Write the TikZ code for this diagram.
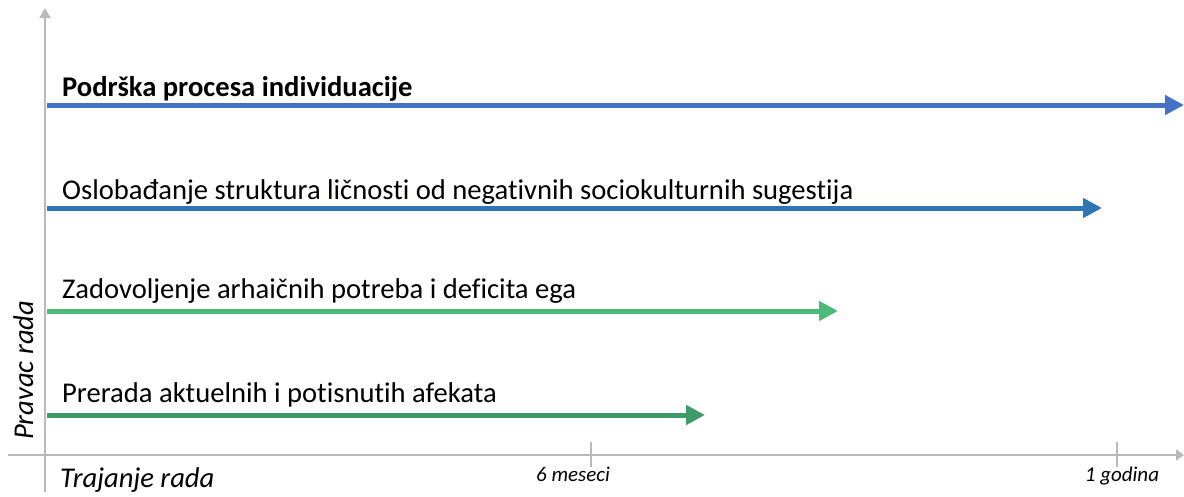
\documentclass[tikz,border=0pt]{standalone}
\usepackage{fontspec}
\setmainfont{Carlito}[Ligatures=NoCommon]
\usetikzlibrary{arrows.meta}

\definecolor{plava}{RGB}{68,114,196}
\definecolor{tamnoplava}{RGB}{46,117,182}
\definecolor{zelena}{RGB}{76,185,123}
\definecolor{tamnozelena}{RGB}{60,155,105}
\definecolor{siva}{RGB}{185,185,185}

\begin{document}
\begin{tikzpicture}[x=1pt, y=-1pt,
        osa/.style={draw=siva, line width=2pt},
        tok/.style={line width=5pt, -{Triangle[length=19pt,width=19pt]}},
        natpis/.style={anchor=base west, inner sep=0pt, font=\fontsize{28.6}{32}\selectfont},
        oznaka/.style={anchor=base, inner sep=0pt, font=\fontsize{21}{24}\selectfont\itshape}]
        \useasboundingbox (0,0) rectangle (1184,496);

        % ose
        \coordinate (ydole) at (45,492);
        \coordinate (ygore) at (45,8);
        \coordinate (xlevo) at (8,455);
        \coordinate (xdesno) at (1184,455);
        \draw[osa, -{Triangle[length=10pt,width=11pt]}] (ydole) -- (ygore);
        \draw[osa, -{Triangle[length=8pt,width=11pt]}] (xlevo) -- (xdesno);
        \coordinate (pola1) at (591,442);
        \coordinate (pola2) at (591,467);
        \coordinate (god1) at (1117,442);
        \coordinate (god2) at (1117,467);
        \draw[osa] (pola1) -- (pola2);
        \draw[osa] (god1) -- (god2);
        \node[oznaka] (pola) at (573,481) {6 meseci};
        \node[oznaka] (god) at (1122,481) {1 godina};
        \node[natpis, font=\fontsize{28.6}{32}\selectfont\itshape] (trajanje) at (60,487) {Trajanje rada};
        \node[natpis, font=\fontsize{28.6}{32}\selectfont\itshape, rotate=90] (pravac) at (33,440) {Pravac rada};

        % tokovi rada
        \coordinate (a1) at (47,105);  \coordinate (b1) at (1184,105);
        \coordinate (a2) at (47,208);  \coordinate (b2) at (1102,208);
        \coordinate (a3) at (47,311);  \coordinate (b3) at (838,311);
        \coordinate (a4) at (47,415);  \coordinate (b4) at (705,415);
        \draw[tok, plava] (a1) -- (b1);
        \draw[tok, tamnoplava] (a2) -- (b2);
        \draw[tok, zelena] (a3) -- (b3);
        \draw[tok, tamnozelena] (a4) -- (b4);
        \node[natpis, font=\fontsize{28.6}{32}\selectfont\bfseries] (individuacija) at (62,96) {Podrška procesa individuacije};
        \node[natpis] (oslobadjanje) at (62,199) {Oslobađanje struktura ličnosti od negativnih sociokulturnih sugestija};
        \node[natpis] (zadovoljenje) at (62,298) {Zadovoljenje arhaičnih potreba i deficita ega};
        \node[natpis] (prerada) at (62,402) {Prerada aktuelnih i potisnutih afekata};
\end{tikzpicture}
\end{document}
